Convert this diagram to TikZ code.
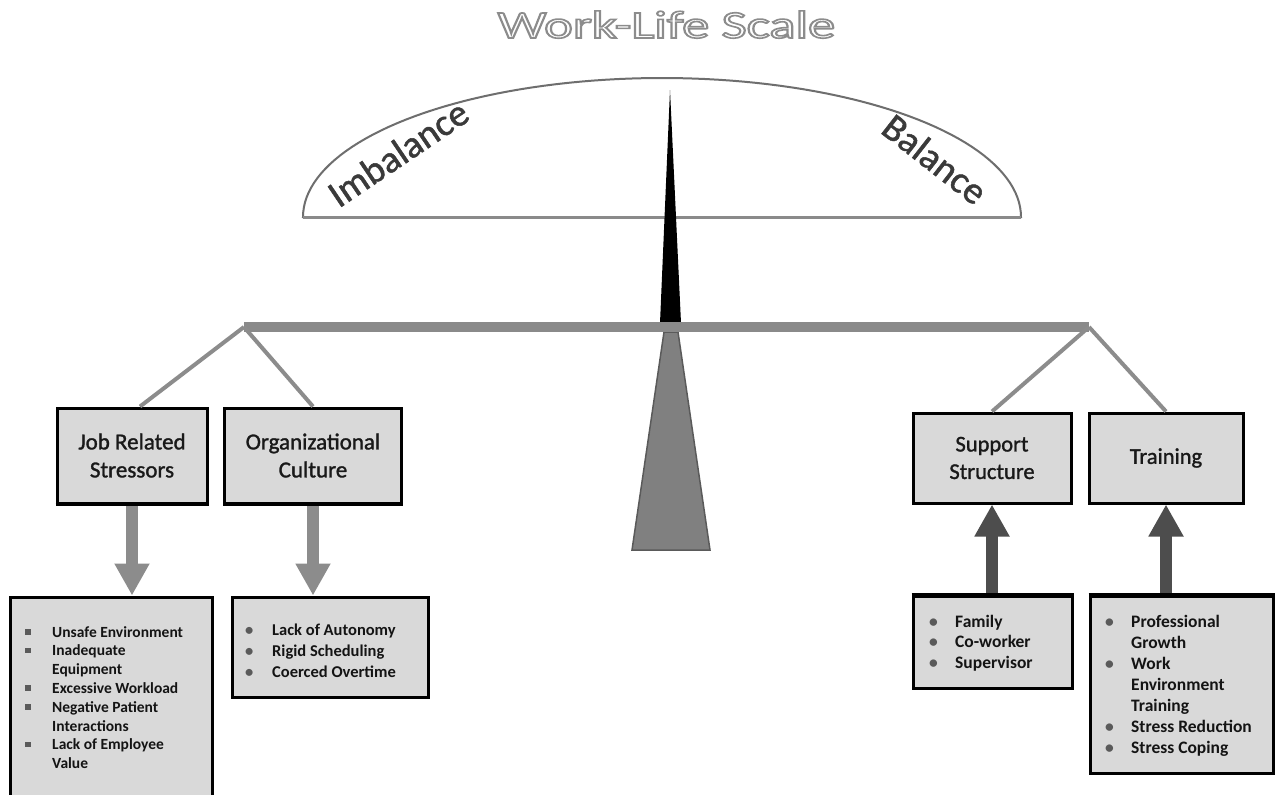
\documentclass[tikz,border=0pt]{standalone}
\usepackage{fontspec}
\setmainfont{Carlito}
\newfontfamily\medfont{Carlito}[FakeBold=1.3]
\usetikzlibrary{arrows.meta,calc}
\definecolor{bargray}{HTML}{8A8A8A}
\definecolor{linegray}{HTML}{8C8C8C}
\definecolor{boxgray}{HTML}{D9D9D9}
\definecolor{upgray}{HTML}{4D4D4D}
\definecolor{fulgray}{HTML}{808080}
\definecolor{fuledge}{HTML}{5A5A5A}
\definecolor{domegray}{HTML}{6E6E6E}
\definecolor{txtgray}{HTML}{3A3A3A}
\definecolor{bulgray}{HTML}{5A5A5A}
\newcommand\sqb{\textcolor{bulgray}{\rule[2.5pt]{5.5pt}{5.5pt}}}
\newcommand\rdb{\textcolor{bulgray}{\textbullet}}
\newcommand\outlinetext[1]{{\color{white}\special{pdf:literal direct 2 Tr 1.6 w 0.55 G}#1\special{pdf:literal direct 0 Tr}}}
\begin{document}
\begin{tikzpicture}[x=1pt,y=-1pt,
  topbox/.style={draw=black, line width=3pt, fill=boxgray, align=center, inner sep=0pt,
    text=black!90, font=\medfont\fontsize{23}{28}\selectfont},
  listbox/.style={draw=black, line width=3pt, fill=boxgray, inner sep=0pt},
  listtext/.style={anchor=base west, inner sep=0pt, align=left, text=black!92},
  branch/.style={draw=linegray, line width=4pt},
  downarrow/.style={draw=linegray, line width=12pt, -{Triangle[width=33pt,length=32pt]}},
  uparrow/.style={draw=upgray, line width=12pt, -{Triangle[width=33pt,length=32pt]}},
  scalelabel/.style={inner sep=0pt, text=txtgray, font=\medfont\fontsize{38}{38}\selectfont}
]
\useasboundingbox (0,0) rectangle (1275,795);

% title
\node[anchor=base, inner sep=0pt] (title) at (666.5,38)
  {\scalebox{1.4}[1]{\fontsize{39}{39}\selectfont\outlinetext{Work-Life Scale}}};

% dome
\draw[domegray, line width=2pt, fill=white]
  plot[domain=180:360, samples=90] ({662+359*cos(\x)}, {217+139*sin(\x)}) -- cycle;
\draw[bargray, line width=3pt] (303,217) -- (1021,217);

% labels on the dome
\node[scalelabel, rotate=34] (imb) at (398,153) {Imbalance};
\node[scalelabel, rotate=-38] (bal) at (935,159) {Balance};

% needle
\fill[black] (670,90) -- (681,323) -- (660,323) -- cycle;
% fulcrum
\filldraw[fill=fulgray, draw=fuledge, line width=1.5pt]
  (664,332) -- (678,332) -- (710,550) -- (632,550) -- cycle;

% bar
\coordinate (bl) at (244,327);
\coordinate (br) at (1089,327);
\draw[bargray, line width=10pt] (bl) -- (br);

% top boxes
\node[topbox, minimum width=150pt, minimum height=95pt] (jrs) at (132,455.5) {Job Related\\Stressors};
\node[topbox, minimum width=177pt, minimum height=95pt] (org) at (313,455.5) {Organizational\\Culture};
\node[topbox, minimum width=158pt, minimum height=90pt, font=\medfont\fontsize{22.5}{27.5}\selectfont] (sup) at (992,458) {Support\\Structure};
\node[topbox, minimum width=154pt, minimum height=90pt, font=\medfont\fontsize{22.5}{27.5}\selectfont] (tr) at (1166,458) {Training};

% list boxes
\node[listbox, minimum width=202pt, minimum height=201pt] (jrsl) at (111,697.5) {};
\node[listbox, minimum width=196pt, minimum height=100pt] (orgl) at (330,647) {};
\node[listbox, minimum width=159pt, minimum height=92pt] (supl) at (992.5,642) {};
\node[listbox, minimum width=183pt, minimum height=177pt] (trl) at (1181.5,684.5) {};

% branches
\draw[branch] (bl) -- ([xshift=8pt]jrs.north);
\draw[branch] (bl) -- (org.north);
\draw[branch] (br) -- (sup.north);
\draw[branch] (br) -- (tr.north);

% arrows
\draw[downarrow] (jrs.south) -- (jrs.south |- jrsl.north);
\draw[downarrow] (org.south) -- (org.south |- orgl.north);
\draw[uparrow] (sup.south |- supl.north) -- (sup.south);
\draw[uparrow] (tr.south |- trl.north) -- (tr.south);

% redraw borders on top of arrow ends
\draw[black, line width=3pt] (jrs.south west) -- (jrs.south east);
\draw[black, line width=3pt] (org.south west) -- (org.south east);
\draw[black, line width=3pt] (supl.north west) -- (supl.north east);
\draw[black, line width=3pt] (trl.north west) -- (trl.north east);

% list texts
\node[listtext, font=\fontsize{15.5}{18.8}\selectfont\bfseries] (jrst) at (25,637) {%
\begin{tabular}[t]{@{}l@{}l@{}}
\makebox[27pt][l]{\sqb} & Unsafe Environment\\
\makebox[27pt][l]{\sqb} & Inadequate\\
 & Equipment\\
\makebox[27pt][l]{\sqb} & Excessive Workload\\
\makebox[27pt][l]{\sqb} & Negative Patient\\
 & Interactions\\
\makebox[27pt][l]{\sqb} & Lack of Employee\\
 & Value
\end{tabular}};

\node[listtext, font=\fontsize{16.5}{21.3}\selectfont\bfseries] (orgt) at (245,635) {%
\begin{tabular}[t]{@{}l@{}l@{}}
\makebox[27pt][l]{\rdb} & Lack of Autonomy\\
\makebox[27pt][l]{\rdb} & Rigid Scheduling\\
\makebox[27pt][l]{\rdb} & Coerced Overtime
\end{tabular}};

\node[listtext, font=\fontsize{17.5}{20.8}\selectfont\bfseries] (supt) at (929,627) {%
\begin{tabular}[t]{@{}l@{}l@{}}
\makebox[26pt][l]{\rdb} & Family\\
\makebox[26pt][l]{\rdb} & Co-worker\\
\makebox[26pt][l]{\rdb} & Supervisor
\end{tabular}};

\node[listtext, font=\fontsize{17.5}{21.1}\selectfont\bfseries] (trt) at (1105,627) {%
\begin{tabular}[t]{@{}l@{}l@{}}
\makebox[26pt][l]{\rdb} & Professional\\
 & Growth\\
\makebox[26pt][l]{\rdb} & Work\\
 & Environment\\
 & Training\\
\makebox[26pt][l]{\rdb} & Stress Reduction\\
\makebox[26pt][l]{\rdb} & Stress Coping
\end{tabular}};
\end{tikzpicture}
\end{document}
